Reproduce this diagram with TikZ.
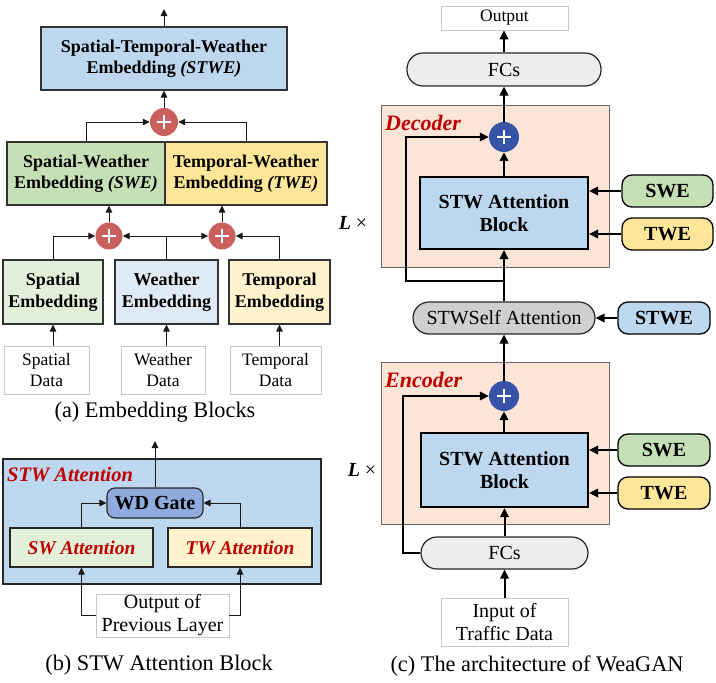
\documentclass[tikz,border=0pt]{standalone}
\usepackage{fontspec}
\setmainfont{Liberation Serif}
\usetikzlibrary{arrows.meta}
\definecolor{cBlue}{HTML}{BDD7EE}
\definecolor{cGreen}{HTML}{C5E0B4}
\definecolor{cYellow}{HTML}{FFE699}
\definecolor{cLGreen}{HTML}{E2F0D9}
\definecolor{cLBlue}{HTML}{DEEBF7}
\definecolor{cLYellow}{HTML}{FFF2CC}
\definecolor{cRedC}{HTML}{C9605D}
\definecolor{cBlueC}{HTML}{3653A5}
\definecolor{cPeach}{HTML}{FBE5D6}
\definecolor{cFC}{HTML}{EDEDED}
\definecolor{cSA}{HTML}{D0CECE}
\definecolor{cWD}{HTML}{8FAADC}
\definecolor{cRedT}{HTML}{C00000}
\newcommand\fzA{\fontsize{18}{21.5}\selectfont}
\newcommand\fzD{\fontsize{17.5}{21}\selectfont}
\newcommand\fzB{\fontsize{19.5}{22}\selectfont}
\newcommand\fzC{\fontsize{20}{23}\selectfont}
\newcommand\fzCap{\fontsize{22.3}{26}\selectfont}
\newcommand\plusmark[2]{\draw[white,line width=1.4pt] ([xshift=-#2]#1.center) -- ([xshift=#2]#1.center) ([yshift=-#2]#1.center) -- ([yshift=#2]#1.center);}
\tikzset{
  abox/.style={draw=black!80, line width=1.1pt, align=center, font=\fzA\bfseries, inner sep=0pt},
  dbox/.style={draw=black!22, line width=0.7pt, align=center, font=\fzD, inner sep=0pt},
  bbox/.style={draw=black!85, line width=1.1pt, align=center, inner sep=0pt},
  cblock/.style={draw=black, line width=2.2pt, fill=cBlue, align=center, font=\fzC\bfseries, inner sep=0pt},
  pill/.style={draw=black, line width=1.3pt, rounded corners=10pt, align=center, font=\fzC\bfseries, inner sep=0pt},
  fcs/.style={draw=black!85, line width=1.2pt, rounded corners=16pt, align=center, font=\fzC, inner sep=0pt},
  encframe/.style={draw=black!60, line width=0.8pt, fill=cPeach},
  redplus/.style={circle, fill=cRedC, minimum size=28pt, inner sep=0pt},
  blueplus/.style={circle, fill=cBlueC, minimum size=30pt, inner sep=0pt},
  redlab/.style={text=cRedT, font=\fzC\bfseries\itshape, anchor=west, inner sep=0pt},
  captxt/.style={font=\fzCap, inner sep=0pt},
  arrA/.style={line width=1pt, draw=black!90, -{Triangle[length=7pt,width=6.5pt]}},
  arrC/.style={line width=2pt, -{Triangle[length=9pt,width=8.5pt]}}
}
\begin{document}
\begin{tikzpicture}[x=1pt,y=-1pt]
\useasboundingbox (0,0) rectangle (716,683);
% ---------------- (a) ----------------
\node[abox, fill=cBlue, minimum width=246pt, minimum height=63pt] (stwe) at (164,58.5) {Spatial-Temporal-Weather\\Embedding \textit{(STWE)}};
\node[abox, fill=cGreen, minimum width=158pt, minimum height=63pt] (swe) at (86,173.5) {Spatial-Weather\\Embedding \textit{(SWE)}};
\node[abox, fill=cYellow, minimum width=162pt, minimum height=63pt] (twe) at (246,173.5) {Temporal-Weather\\Embedding \textit{(TWE)}};
\node[redplus] (p1) at (164,122) {};
\plusmark{p1}{7pt}
\node[abox, fill=cLGreen, minimum width=100pt, minimum height=64pt] (se) at (53,292) {Spatial\\Embedding};
\node[abox, fill=cLBlue, minimum width=103pt, minimum height=64pt] (we) at (166.5,292) {Weather\\Embedding};
\node[abox, fill=cLYellow, minimum width=101pt, minimum height=64pt] (te) at (279.5,292) {Temporal\\Embedding};
\node[redplus, minimum size=27pt] (p2) at (109,236) {};
\plusmark{p2}{7pt}
\node[redplus, minimum size=27pt] (p3) at (222,236) {};
\plusmark{p3}{7pt}
\node[dbox, minimum width=85pt, minimum height=48pt] (sd) at (46.5,370) {Spatial\\Data};
\node[dbox, minimum width=84pt, minimum height=48pt] (wd) at (163,370) {Weather\\Data};
\node[dbox, minimum width=91pt, minimum height=48pt] (td) at (275.5,370) {Temporal\\Data};
\coordinate (atop) at (164,9);
\draw[arrA] (stwe.north) -- (atop);
\draw[arrA] (p1.north) -- (stwe.south);
\draw[arrA] (swe.north) |- (p1.west);
\draw[arrA] (twe.north) |- (p1.east);
\draw[arrA] (p2.north) -- (p2.north |- swe.south);
\draw[arrA] (p3.north) -- (p3.north |- twe.south);
\draw[arrA] (se.north) |- (p2.west);
\draw[arrA] (we.north) |- (p2.east);
\draw[arrA] (we.north) |- (p3.west);
\draw[arrA] (te.north) |- (p3.east);
\draw[arrA] (se.south |- sd.north) -- (se.south);
\draw[arrA] (we.south |- wd.north) -- (we.south);
\draw[arrA] (te.south |- td.north) -- (te.south);
\node[captxt] (capa) at (155,412) {(a) Embedding Blocks};
% ---------------- (b) ----------------
\node[draw=black!85, line width=1.1pt, fill=cBlue, minimum width=318pt, minimum height=125pt, inner sep=0pt] (stwbox) at (162,521.5) {};
\node[redlab, font=\fontsize{20.5}{23}\selectfont\bfseries\itshape] (stwlab) at (7,475) {STW Attention};
\node[bbox, fill=cWD, rounded corners=8pt, minimum width=96pt, minimum height=30pt, font=\fzC\bfseries] (wdg) at (155,503) {WD Gate};
\node[bbox, fill=cLGreen, minimum width=143pt, minimum height=39pt, font=\fzB\bfseries\itshape, text=cRedT] (sw) at (81.5,547.5) {SW Attention};
\node[bbox, fill=cLYellow, minimum width=144pt, minimum height=39pt, font=\fzB\bfseries\itshape, text=cRedT] (tw) at (240,547.5) {TW Attention};
\node[dbox, font=\fzC, minimum width=133pt, minimum height=43pt] (prev) at (162.5,615.5) {Output of\\Previous Layer};
\coordinate (btop) at (155,441);
\draw[arrA] (wdg.north) -- (btop);
\draw[arrA] (sw.north) |- (wdg.west);
\draw[arrA] (tw.north) |- (wdg.east);
\draw[arrA] (prev.west) -| (sw.south);
\draw[arrA] (prev.east) -| (tw.south);
\node[captxt] (capb) at (159,665) {(b) STW Attention Block};
% ---------------- (c) ----------------
\node[encframe, minimum width=228pt, minimum height=162pt, inner sep=0pt] (dec) at (495,186) {};
\node[encframe, minimum width=228pt, minimum height=162pt, inner sep=0pt] (enc) at (495,443) {};
\node[redlab, font=\fontsize{22}{24}\selectfont\bfseries\itshape] (declab) at (385,123) {Decoder};
\node[redlab, font=\fontsize{22}{24}\selectfont\bfseries\itshape] (enclab) at (385,380) {Encoder};
\node[dbox, font=\fzD, minimum width=127pt, minimum height=24pt] (outp) at (504.5,18) {Output};
\node[fcs, fill=cFC, minimum width=194pt, minimum height=33pt] (fc2) at (504,69.5) {FCs};
\node[blueplus] (pd) at (504,137) {};
\plusmark{pd}{7pt}
\node[cblock, minimum width=168pt, minimum height=72pt] (bd) at (504,213) {STW Attention\\Block};
\node[pill, fill=cGreen, minimum width=91pt, minimum height=32pt] (swe2) at (667.5,191) {SWE};
\node[pill, fill=cYellow, minimum width=91pt, minimum height=32pt] (twe2) at (667.5,234) {TWE};
\node[font=\fzC, inner sep=0pt] (l1) at (353,223) {\textbf{\textit{L}} ×};
\node[fcs, fill=cSA, minimum width=182pt, minimum height=32pt] (sa) at (504,318) {STWSelf Attention};
\node[pill, fill=cBlue, minimum width=92pt, minimum height=32pt] (stwe2) at (664,318) {STWE};
\node[blueplus] (pe) at (504,396) {};
\plusmark{pe}{7pt}
\node[cblock, minimum width=167pt, minimum height=74pt] (be) at (504.5,470) {STW Attention\\Block};
\node[pill, fill=cGreen, minimum width=92pt, minimum height=32pt] (swe3) at (664,450) {SWE};
\node[pill, fill=cYellow, minimum width=92pt, minimum height=32pt] (twe3) at (664,493) {TWE};
\node[font=\fzC, inner sep=0pt] (l2) at (362,470) {\textbf{\textit{L}} ×};
\node[fcs, fill=cFC, minimum width=167pt, minimum height=32pt] (fc1) at (504.5,553) {FCs};
\node[dbox, font=\fzC, minimum width=127pt, minimum height=48pt] (inp) at (504.5,622) {Input of\\Traffic Data};
\draw[arrC] (inp.north) -- (fc1.south);
\draw[arrC] (fc1.north) -- (fc1.north |- be.south);
\draw[arrC] (be.north -| pe) -- (pe.south);
\draw[arrC] (fc1.west) -- ++(-17,0) |- (pe.west);
\draw[arrC] (pe.north) -- (sa.south);
\draw[arrC] (swe3.west) -- (swe3.west -| be.east);
\draw[arrC] (twe3.west) -- (twe3.west -| be.east);
\draw[arrC] (stwe2.west) -- (sa.east);
\draw[arrC] (sa.north) -- (bd.south);
\coordinate (k) at (504,281);
\draw[arrC] (k) -- (406,281) |- (pd.west);
\draw[arrC] (bd.north) -- (pd.south);
\draw[arrC] (pd.north) -- (fc2.south);
\draw[arrC] (fc2.north) -- (fc2.north |- outp.south);
\draw[arrC] (swe2.west) -- (swe2.west -| bd.east);
\draw[arrC] (twe2.west) -- (twe2.west -| bd.east);
\node[captxt] (capc) at (537,666) {(c) The architecture of WeaGAN};
\end{tikzpicture}
\end{document}
